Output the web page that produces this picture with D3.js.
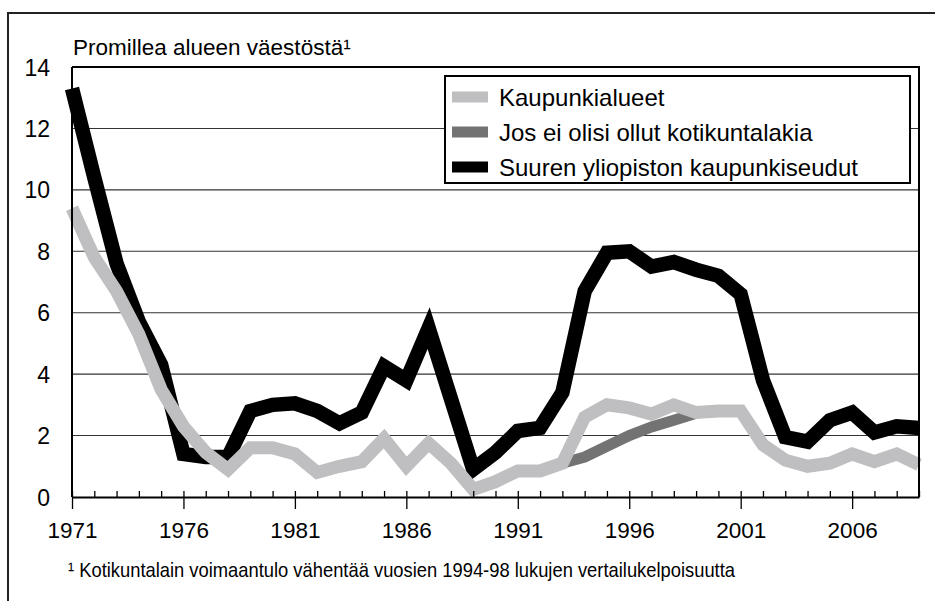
<!DOCTYPE html>
<html lang="fi">

<head>
  <meta charset="utf-8">
  <title>Promillea alueen väestöstä</title>
  <script src="https://d3js.org/d3.v7.min.js" charset="utf-8"></script>
  <style>
    body { margin: 0; background: #fff; }
    text { font-family: "Liberation Sans", Arial, sans-serif; fill: #000; }
  </style>
</head>

<body>
  <div id="chart"></div>

  <script type="text/javascript">
    // data
    var years = d3.range(1971, 2010)
    var kaupunkialueet = [9.4, 7.8, 6.7, 5.3, 3.5, 2.3, 1.45, 0.9, 1.6, 1.6,
      1.4, 0.8, 1.0, 1.15, 1.9, 1.0, 1.75, 1.1, 0.25, 0.5,
      0.85, 0.85, 1.1, 2.6, 3.0, 2.9, 2.7, 3.0, 2.75, 2.8,
      2.8, 1.7, 1.2, 1.0, 1.1, 1.4, 1.15, 1.4, 1.05]
    var yliopisto = [13.3, 10.4, 7.6, 5.7, 4.3, 1.4, 1.3, 1.3, 2.8, 3.0,
      3.05, 2.8, 2.4, 2.75, 4.25, 3.8, 5.5, 3.2, 0.9, 1.45,
      2.15, 2.25, 3.4, 6.7, 7.95, 8.0, 7.5, 7.65, 7.4, 7.2,
      6.6, 3.8, 1.95, 1.8, 2.5, 2.75, 2.1, 2.3, 2.25]
    var josYears = [1993, 1994, 1995, 1996, 1997, 1998, 1999]
    var josEiLakia = [1.1, 1.3, 1.65, 2.0, 2.28, 2.5, 2.73]
    var yTicks = [0, 2, 4, 6, 8, 10, 12, 14]
    var xMajor = [1971, 1976, 1981, 1986, 1991, 1996, 2001, 2006]
    var legendNames = ["Kaupunkialueet", "Jos ei olisi ollut kotikuntalakia", "Suuren yliopiston kaupunkiseudut"]
    var legendColors = ["#bfbfc1", "#737373", "#000000"]

    var width = 935, height = 601

    var svg = d3.select("#chart")
      .append("svg")
      .attr("width", width)
      .attr("height", height)

    // outer frame (right and bottom cut off in the picture)
    svg.append("path")
      .attr("d", "M8,601 L8,13 L935,13")
      .attr("fill", "none")
      .attr("stroke", "#222")
      .attr("stroke-width", 2)

    var x = d3.scaleLinear().domain([1971, 2009]).range([72, 919])
    var y = d3.scaleLinear().domain([0, 14]).range([497, 67])

    // gridlines
    svg.append("g")
      .selectAll("line")
      .data(yTicks.filter(function (d) { return d > 0 && d < 14 }))
      .join("line")
      .attr("x1", x(1971)).attr("x2", x(2009))
      .attr("y1", function (d) { return y(d) }).attr("y2", function (d) { return y(d) })
      .attr("stroke", "#333")
      .attr("stroke-width", 1.1)

    // y labels
    svg.append("g")
      .selectAll("text")
      .data(yTicks)
      .join("text")
      .attr("x", 50)
      .attr("y", function (d) { return y(d) + 8.5 })
      .attr("text-anchor", "end")
      .attr("font-size", 23)
      .text(function (d) { return d })

    svg.append("text")
      .attr("x", 73)
      .attr("y", 55)
      .attr("font-size", 22.5)
      .text("Promillea alueen väestöstä¹")

    // lines
    var line = d3.line()
      .x(function (d) { return x(d[0]) })
      .y(function (d) { return y(d[1]) })

    svg.append("path")
      .datum(d3.zip(years, yliopisto))
      .attr("d", line)
      .attr("fill", "none")
      .attr("stroke", legendColors[2])
      .attr("stroke-width", 14.5)
      .attr("stroke-linejoin", "miter")

    svg.append("path")
      .datum(d3.zip(josYears, josEiLakia))
      .attr("d", line)
      .attr("fill", "none")
      .attr("stroke", legendColors[1])
      .attr("stroke-width", 11)

    svg.append("path")
      .datum(d3.zip(years, kaupunkialueet))
      .attr("d", line)
      .attr("fill", "none")
      .attr("stroke", legendColors[0])
      .attr("stroke-width", 13)
      .attr("stroke-linejoin", "miter")

    // plot frame: top + right border, axes
    svg.append("path")
      .attr("d", "M" + x(1971) + "," + y(14) + " L" + x(2009) + "," + y(14) + " L" + x(2009) + "," + y(0))
      .attr("fill", "none")
      .attr("stroke", "#000")
      .attr("stroke-width", 2)

    svg.append("line")
      .attr("x1", x(1971)).attr("x2", x(1971))
      .attr("y1", y(14)).attr("y2", y(0))
      .attr("stroke", "#000")
      .attr("stroke-width", 2)

    // x axis: minor ticks inside, major ticks outside
    var xAxisMinor = d3.axisTop(x)
      .tickValues(years)
      .tickSizeInner(6)
      .tickSizeOuter(0)
      .tickFormat("")

    svg.append("g")
      .attr("transform", "translate(0," + y(0) + ")")
      .call(xAxisMinor)
      .call(function (g) {
        g.select(".domain").attr("stroke-width", 2)
        g.selectAll(".tick line").attr("stroke-width", 1.3)
      })

    var xAxisMajor = d3.axisBottom(x)
      .tickValues(xMajor)
      .tickSizeInner(12)
      .tickSizeOuter(0)
      .tickPadding(13)
      .tickFormat(d3.format("d"))

    svg.append("g")
      .attr("transform", "translate(0," + y(0) + ")")
      .call(xAxisMajor)
      .call(function (g) {
        g.select(".domain").remove()
        g.selectAll(".tick line").attr("stroke-width", 1.3)
        g.selectAll(".tick text")
          .attr("font-size", 22.5)
          .attr("font-family", "Liberation Sans, Arial, sans-serif")
          .attr("fill", "#000")
      })

    // legend
    var legend = svg.append("g")

    legend.append("rect")
      .attr("x", 445).attr("y", 76)
      .attr("width", 465).attr("height", 107)
      .attr("fill", "#fff")
      .attr("stroke", "#000")
      .attr("stroke-width", 2)

    var rows = legend.selectAll("g.row")
      .data(legendNames)
      .join("g")
      .attr("class", "row")
      .attr("transform", function (d, i) { return "translate(0," + (97 + i * 35) + ")" })

    rows.append("rect")
      .attr("x", 452).attr("y", -5.5)
      .attr("width", 36).attr("height", 11)
      .attr("fill", function (d, i) { return legendColors[i] })

    rows.append("text")
      .attr("x", 499)
      .attr("y", 8.5)
      .attr("font-size", 24)
      .text(function (d) { return d })

    // footnote
    svg.append("text")
      .attr("x", 68)
      .attr("y", 577)
      .attr("font-size", 21)
      .attr("font-family", "Liberation Sans Narrow, Arial Narrow, Liberation Sans, sans-serif")
      .attr("textLength", 667)
      .attr("lengthAdjust", "spacingAndGlyphs")
      .text("¹ Kotikuntalain voimaantulo vähentää vuosien 1994-98 lukujen vertailukelpoisuutta")
  </script>
</body>

</html>
